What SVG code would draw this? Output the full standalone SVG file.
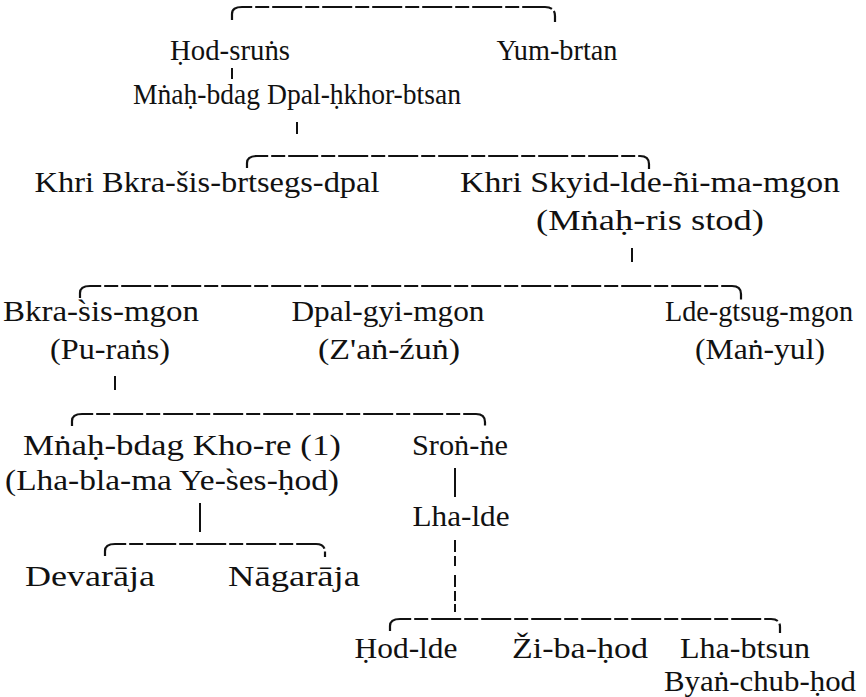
<svg xmlns="http://www.w3.org/2000/svg" width="866" height="697" viewBox="0 0 866 697">
<rect width="866" height="697" fill="#fff"/>
<g id="connectors" fill="none" stroke="#111">
<g stroke-width="2.2" stroke-dasharray="30 3 14 3">
<path d="M232,20 V14 Q232,7 242,7 H545 Q555,7 555,16 V22"/>
<path d="M247,168 V163 Q247,156 257,156 H640 Q649,156 649,164 V169"/>
<path d="M80,298 V293 Q80,286 90,286 H732 Q741,286 741,294 V300"/>
<path d="M72,426 V421 Q72,414 82,414 H476 Q485,414 485,422 V428"/>
<path d="M105,556 V551 Q105,544 115,544 H316 Q325,544 325,552 V557"/>
<path d="M390,631 V626 Q390,619 400,619 H771 Q780,619 780,627 V633"/>
</g>
<g stroke-width="2">
<path d="M232,68 V79"/>
<path d="M297,122 V134"/>
<path d="M632,248 V262"/>
<path d="M115,376 V390"/>
<path d="M200,503 V532"/>
<path d="M455,468 V497"/>
<path d="M455,540 V568 M455,575 V612" stroke-dasharray="12 4 10 3"/>
</g>
</g>
<g id="n-hod-sruns"><text font-family="serif" font-size="29" text-anchor="middle" fill="#111" x="230" y="60" textLength="120" lengthAdjust="spacingAndGlyphs">Ḥod-sruṅs</text></g>
<g id="n-yum-brtan"><text font-family="serif" font-size="29" text-anchor="middle" fill="#111" x="557" y="60" textLength="121" lengthAdjust="spacingAndGlyphs">Yum-brtan</text></g>
<g id="n-mnah-bdag-dpal"><text font-family="serif" font-size="29" text-anchor="middle" fill="#111" x="297" y="104" textLength="328" lengthAdjust="spacingAndGlyphs">Mṅaḥ-bdag Dpal-ḥkhor-btsan</text></g>
<g id="n-khri-bkra"><text font-family="serif" font-size="30" text-anchor="middle" fill="#111" x="207" y="192" textLength="345" lengthAdjust="spacingAndGlyphs">Khri Bkra-šis-brtsegs-dpal</text></g>
<g id="n-khri-skyid"><text font-family="serif" font-size="30" text-anchor="middle" fill="#111" x="650" y="192" textLength="380" lengthAdjust="spacingAndGlyphs">Khri Skyid-lde-ñi-ma-mgon</text><text font-family="serif" font-size="30" text-anchor="middle" fill="#111" x="650" y="230" textLength="228" lengthAdjust="spacingAndGlyphs">(Mṅaḥ-ris stod)</text></g>
<g id="n-bkra-sis-mgon"><text font-family="serif" font-size="30" text-anchor="middle" fill="#111" x="101" y="321" textLength="196" lengthAdjust="spacingAndGlyphs">Bkra-s&#x300;is-mgon</text><text font-family="serif" font-size="30" text-anchor="middle" fill="#111" x="110" y="359" textLength="120" lengthAdjust="spacingAndGlyphs">(Pu-raṅs)</text></g>
<g id="n-dpal-gyi-mgon"><text font-family="serif" font-size="30" text-anchor="middle" fill="#111" x="388" y="321" textLength="193" lengthAdjust="spacingAndGlyphs">Dpal-gyi-mgon</text><text font-family="serif" font-size="30" text-anchor="middle" fill="#111" x="389" y="359" textLength="142" lengthAdjust="spacingAndGlyphs">(Z'aṅ-źuṅ)</text></g>
<g id="n-lde-gtsug-mgon"><text font-family="serif" font-size="30" text-anchor="middle" fill="#111" x="759" y="321" textLength="188" lengthAdjust="spacingAndGlyphs">Lde-gtsug-mgon</text><text font-family="serif" font-size="30" text-anchor="middle" fill="#111" x="760" y="359" textLength="130" lengthAdjust="spacingAndGlyphs">(Maṅ-yul)</text></g>
<g id="n-kho-re"><text font-family="serif" font-size="30" text-anchor="middle" fill="#111" x="182" y="455" textLength="318" lengthAdjust="spacingAndGlyphs">Mṅaḥ-bdag Kho-re (1)</text><text font-family="serif" font-size="30" text-anchor="middle" fill="#111" x="172" y="490" textLength="334" lengthAdjust="spacingAndGlyphs">(Lha-bla-ma Ye-s&#x300;es-ḥod)</text></g>
<g id="n-sron-ne"><text font-family="serif" font-size="30" text-anchor="middle" fill="#111" x="460" y="455" textLength="96" lengthAdjust="spacingAndGlyphs">Sroṅ-ṅe</text></g>
<g id="n-lha-lde"><text font-family="serif" font-size="30" text-anchor="middle" fill="#111" x="461" y="526" textLength="97" lengthAdjust="spacingAndGlyphs">Lha-lde</text></g>
<g id="n-devaraja"><text font-family="serif" font-size="30" text-anchor="middle" fill="#111" x="90" y="586" textLength="130" lengthAdjust="spacingAndGlyphs">Devarāja</text></g>
<g id="n-nagaraja"><text font-family="serif" font-size="30" text-anchor="middle" fill="#111" x="294" y="586" textLength="132" lengthAdjust="spacingAndGlyphs">Nāgarāja</text></g>
<g id="n-hod-lde"><text font-family="serif" font-size="30" text-anchor="middle" fill="#111" x="406" y="658" textLength="103" lengthAdjust="spacingAndGlyphs">Ḥod-lde</text></g>
<g id="n-ziba-hod"><text font-family="serif" font-size="30" text-anchor="middle" fill="#111" x="580" y="658" textLength="136" lengthAdjust="spacingAndGlyphs">Ži-ba-ḥod</text></g>
<g id="n-lha-btsun"><text font-family="serif" font-size="30" text-anchor="middle" fill="#111" x="745" y="658" textLength="130" lengthAdjust="spacingAndGlyphs">Lha-btsun</text><text font-family="serif" font-size="30" text-anchor="middle" fill="#111" x="760" y="691" textLength="192" lengthAdjust="spacingAndGlyphs">Byaṅ-chub-ḥod</text></g>
</svg>
